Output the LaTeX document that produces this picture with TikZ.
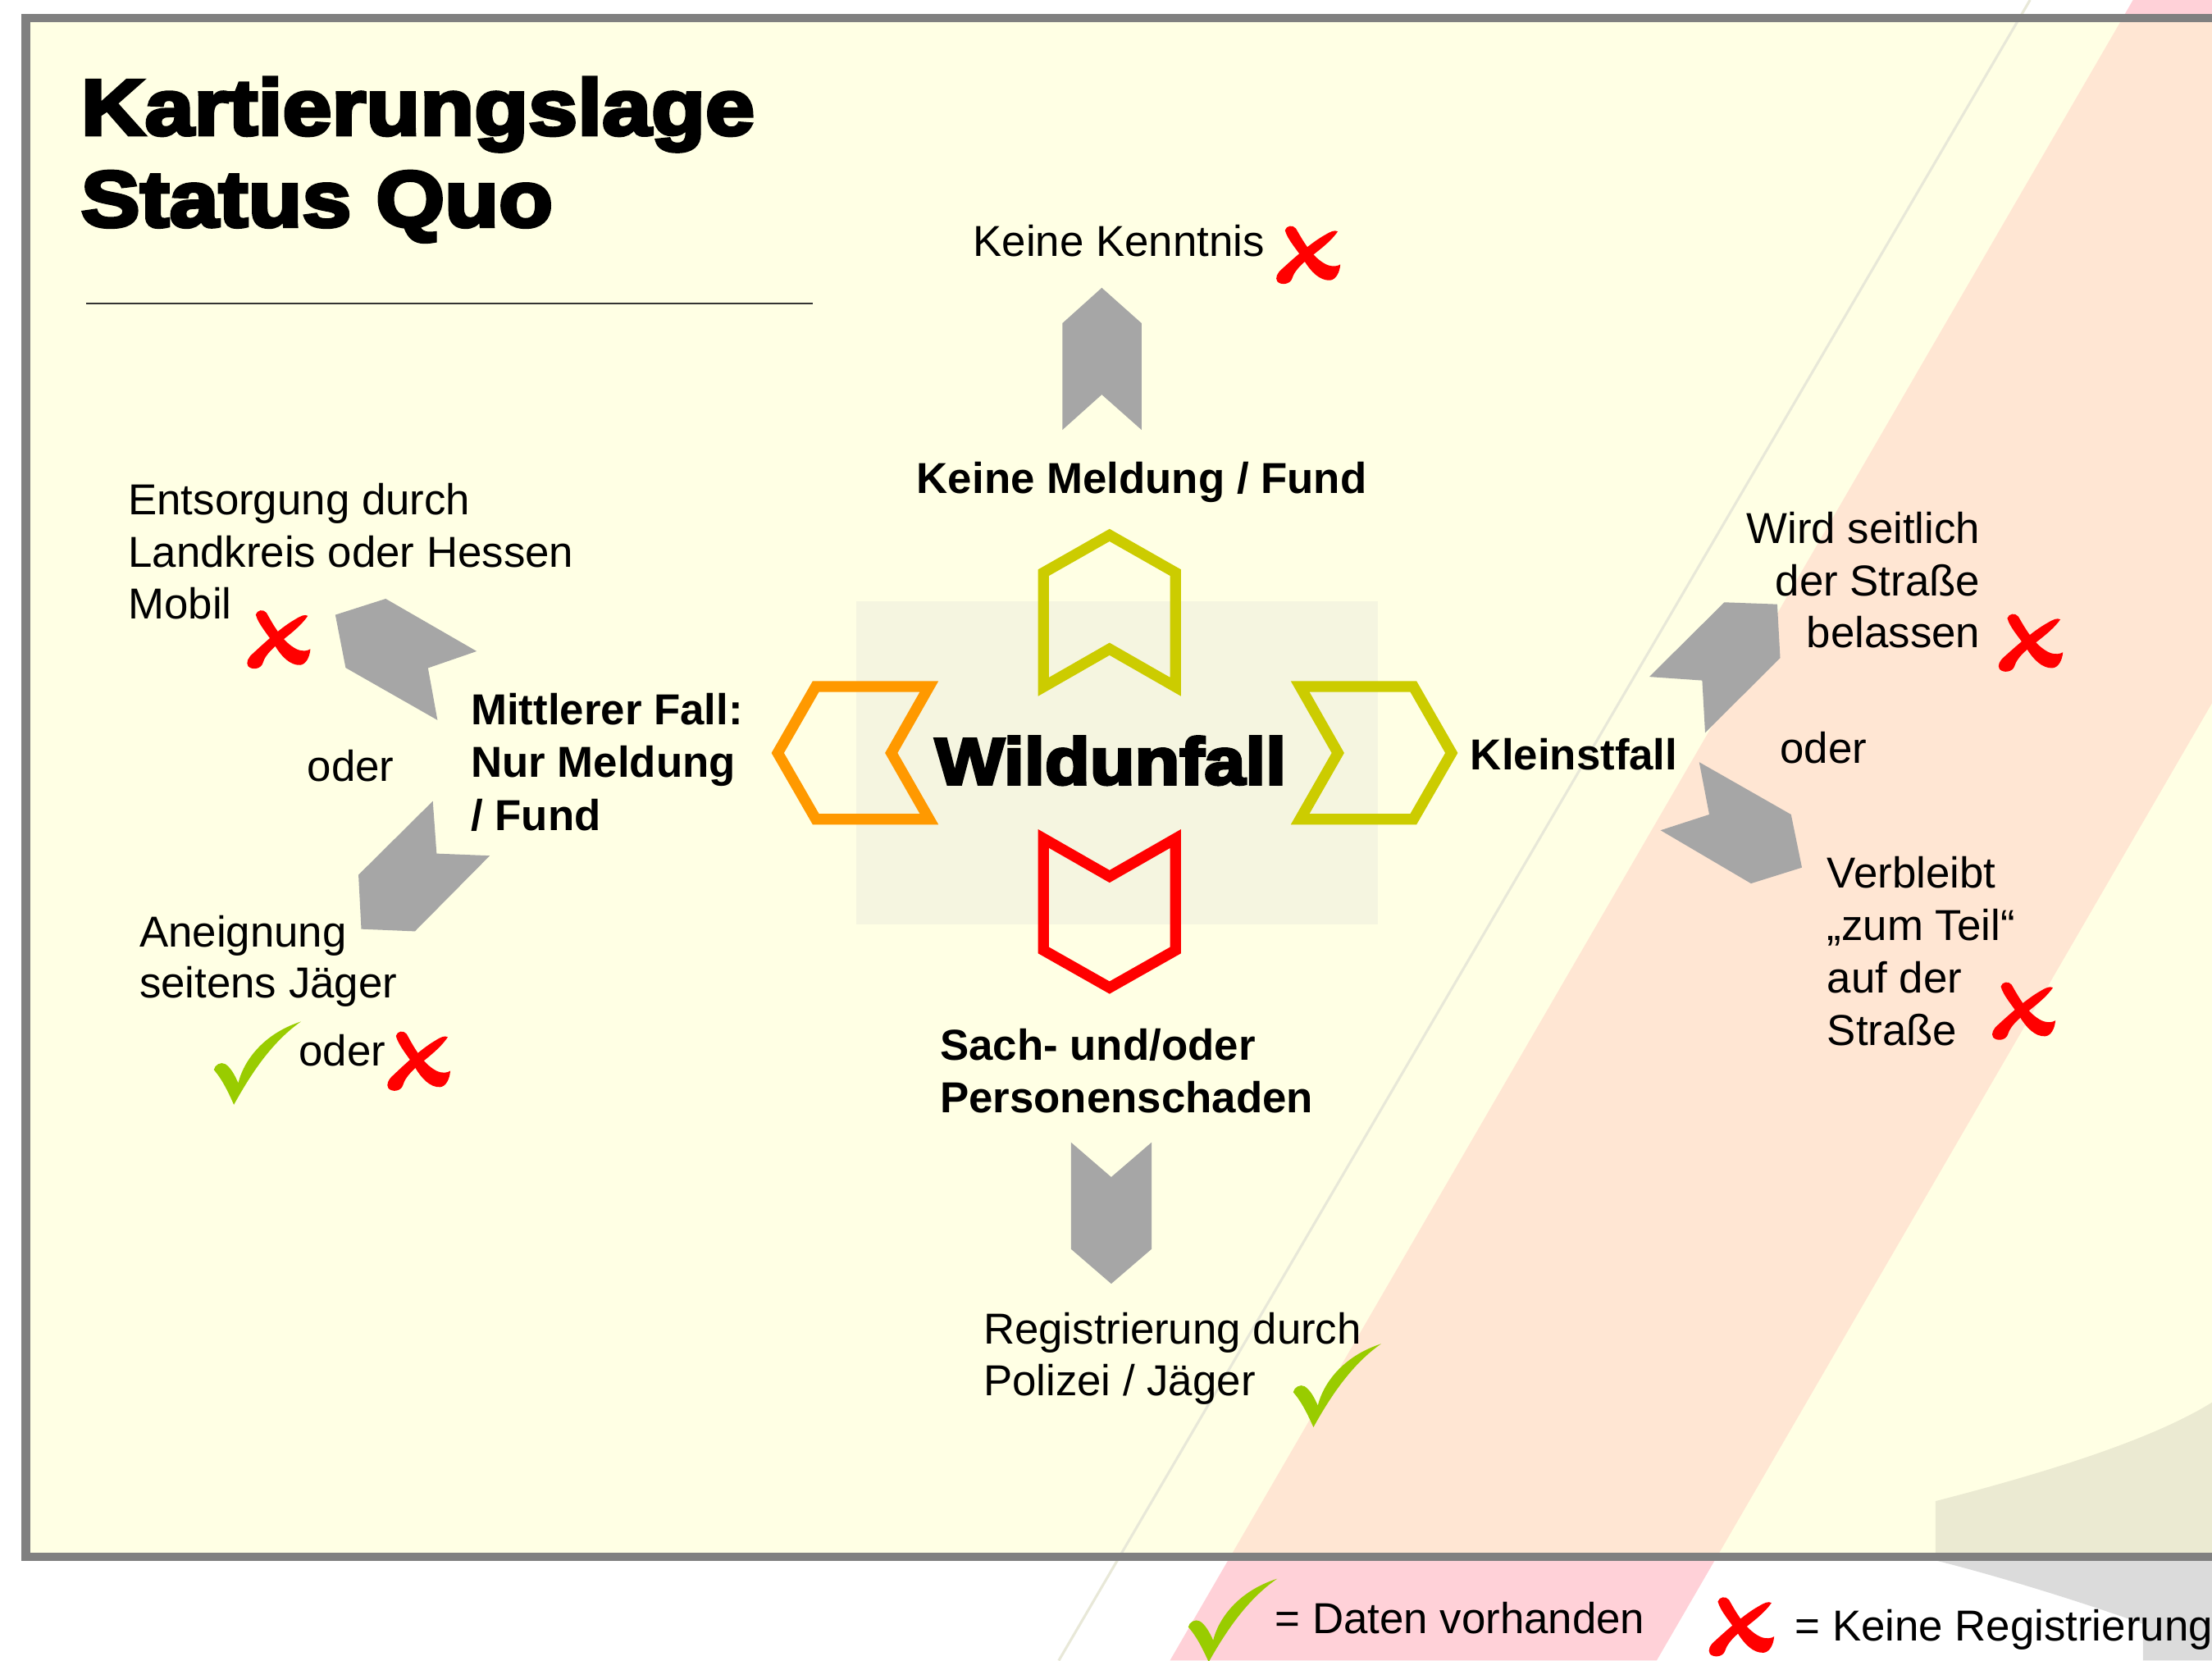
\documentclass[tikz,border=0pt]{standalone}
\usepackage{fontspec}
\setmainfont{Liberation Sans}
\newfontfamily\heavyfont{Liberation Sans Bold}[FakeBold=4.5,FakeStretch=1.12]
\definecolor{bgY}{HTML}{FFFFE4}
\definecolor{sqC}{HTML}{F5F5E0}
\definecolor{peach}{HTML}{FFE6D3}
\definecolor{pinkout}{HTML}{FFD1D8}
\definecolor{shin}{HTML}{EBEAD2}
\definecolor{shout}{HTML}{DBDBDB}
\definecolor{faintL}{HTML}{E8E8D8}
\definecolor{frameG}{HTML}{808080}
\definecolor{arrG}{HTML}{A6A6A6}
\definecolor{chevG}{HTML}{CCCC00}
\definecolor{chevO}{HTML}{FF9900}
\definecolor{chkG}{HTML}{99CC00}
\tikzset{
  txt/.style={inner sep=0pt, anchor=base west, align=left, font=\fontsize{15.35}{18.65}\selectfont},
  btxt/.style={inner sep=0pt, anchor=base west, align=left, font=\fontsize{15.35}{18.75}\selectfont\bfseries},
  chevline/.style={line width=3.85pt, line join=miter, miter limit=10},
  arrowshape/.style={fill=arrG},
  xmark/.pic={
    \fill[red] (0.14,0.08) .. controls (0.16,0.0) and (0.26,-0.02) .. (0.31,0.05)
      .. controls (0.42,0.26) and (0.56,0.54) .. (0.78,0.66)
      .. controls (0.88,0.71) and (0.96,0.69) .. (1.0,0.66)
      .. controls (0.99,0.80) and (0.93,0.92) .. (0.84,0.93)
      .. controls (0.68,0.94) and (0.54,0.78) .. (0.44,0.60)
      .. controls (0.32,0.40) and (0.18,0.24) .. (0.14,0.08) -- cycle;
    \fill[red] (0.96,0.10) .. controls (0.82,0.32) and (0.58,0.48) .. (0.42,0.64)
      .. controls (0.33,0.73) and (0.27,0.82) .. (0.25,0.90)
      .. controls (0.22,1.0) and (0.08,1.02) .. (0.02,0.95)
      .. controls (-0.02,0.89) and (0.02,0.80) .. (0.10,0.73)
      .. controls (0.30,0.53) and (0.56,0.28) .. (0.76,0.16)
      .. controls (0.85,0.10) and (0.91,0.07) .. (0.96,0.10) -- cycle;
  },
  cmark/.pic={
    \fill[chkG] (0.23,1.0) .. controls (0.42,0.64) and (0.66,0.25) .. (1.0,0.0)
      .. controls (0.56,0.15) and (0.34,0.48) .. (0.28,0.74)
      .. controls (0.24,0.64) and (0.19,0.55) .. (0.13,0.51)
      .. controls (0.08,0.48) and (0.01,0.52) .. (0.0,0.58)
      .. controls (0.10,0.70) and (0.17,0.86) .. (0.23,1.0) -- cycle;
  }
}
\begin{document}
\begin{tikzpicture}[x=0.5pt,y=-0.5pt]
\useasboundingbox (0,0) rectangle (1568,1177);
\clip (0,0) rectangle (1568,1177);
% background
\fill[white] (0,0) rectangle (1568,1177);
\fill[pinkout] (1512,0) -- (1857,0) -- (1174.3,1177) -- (829.3,1177) -- cycle;
\fill[bgY] (18,13) rectangle (1600,1103);
\fill[peach] (1504.5,13) -- (1849.5,13) -- (1217.3,1103) -- (872.3,1103) -- cycle;
\fill[shin] (1372,1103) -- (1372,1064) .. controls (1430,1049) and (1520,1024) .. (1568,994) -- (1600,980) -- (1600,1103) -- cycle;
\fill[shout] (1372,1106) .. controls (1420,1118) and (1480,1137) .. (1519,1151) -- (1519,1177) -- (1600,1177) -- (1600,1106) -- cycle;
\draw[faintL, line width=0.9pt] (1439,0) -- (750.5,1177);
\draw[frameG, line width=3pt] (1600,12.8) -- (18.3,12.8) -- (18.3,1103.5) -- (1600,1103.5);
% title
\node[inner sep=0pt, anchor=base west, align=left, font=\heavyfont\fontsize{28}{32.5}\selectfont] (title) at (57,160.5) {Kartierungslage\\Status Quo};
\draw[black!80, line width=0.6pt] (61,215) -- (576,215);
% centre
\fill[sqC] (607,426) rectangle (977,655);
\draw[chevG, chevline] (786.5,379.3) -- (833.3,405.9) -- (833.3,486.8) -- (786.5,460) -- (739.7,486.8) -- (739.7,405.9) -- cycle;
\draw[red, chevline] (739.7,594.4) -- (786.5,621.2) -- (833.3,594.4) -- (833.3,673.5) -- (786.5,700) -- (739.7,673.5) -- cycle;
\draw[chevO, chevline] (578.3,486.6) -- (658.6,486.6) -- (631.8,533.7) -- (658.6,580.6) -- (578.3,580.6) -- (551.3,533.7) -- cycle;
\draw[chevG, chevline] (921.6,486.6) -- (1001.9,486.6) -- (1028.9,533.7) -- (1001.9,580.6) -- (921.6,580.6) -- (948.4,533.7) -- cycle;
\node[inner sep=0pt, anchor=base, font=\heavyfont\fontsize{23.3}{28}\selectfont] (wild) at (787.2,555.8) {Wildunfall};
% grey arrows
\fill[arrowshape] (781,204) -- (809.2,229.1) -- (809.2,304.7) -- (781,279.7) -- (753.1,304.7) -- (753.1,229.1) -- cycle;
\fill[arrowshape] (759.2,809.7) -- (787.7,834.3) -- (816.3,809.7) -- (816.3,885.3) -- (787.7,909.9) -- (759.2,885.3) -- cycle;
\fill[arrowshape] (237.7,435.8) -- (273.4,424.4) -- (337.9,461.6) -- (303.4,473.5) -- (310.1,510.4) -- (245.0,473.3) -- cycle;
\fill[arrowshape] (306.8,567.8) -- (309.5,605.0) -- (347.2,606.5) -- (294.1,660.1) -- (256.1,658.5) -- (254.1,620.1) -- cycle;
\fill[arrowshape] (1259.8,428.3) -- (1261.9,466.3) -- (1208.7,519.4) -- (1206.6,482.3) -- (1169.1,479.7) -- (1222.3,426.9) -- cycle;
\fill[arrowshape] (1204.5,540.2) -- (1211.6,577.3) -- (1177.1,588.5) -- (1241.2,626.2) -- (1277.3,614.9) -- (1269.6,577.3) -- cycle;
% texts (base anchor = baseline of last line)
\node[txt] (kk) at (689.5,181.8) {Keine Kenntnis};
\node[btxt] (kmf) at (649.5,349.8) {Keine Meldung / Fund};
\node[btxt] (mf) at (333.5,588.5) {Mittlerer Fall:\\Nur Meldung\\/ Fund};
\node[txt] (oderL) at (217.5,553.6) {oder};
\node[txt, font=\fontsize{15.35}{18.5}\selectfont] (ents) at (90.5,438.9) {Entsorgung durch\\Landkreis oder Hessen\\Mobil};
\node[txt, font=\fontsize{15.35}{18.2}\selectfont] (anei) at (98.5,707.4) {Aneignung\\seitens Jäger};
\node[txt] (oderJ) at (211.5,755.6) {oder};
\node[btxt] (klein) at (1042,545.5) {Kleinstfall};
\node[txt, anchor=base east, align=right, font=\fontsize{15.35}{18.55}\selectfont] (wird) at (1404,459.2) {Wird seitlich\\der Straße\\belassen};
\node[txt] (oderR) at (1261.5,540.8) {oder};
\node[txt] (verb) at (1294.8,741.0) {Verbleibt\\„zum Teil“\\auf der\\Straße};
\node[btxt] (sach) at (666,788.8) {Sach- und/oder\\Personenschaden};
\node[txt, font=\fontsize{15.35}{18.4}\selectfont] (regi) at (696.7,989.3) {Registrierung durch\\Polizei / Jäger};
\node[txt] (leg1) at (903.5,1158) {= Daten vorhanden};
\node[txt] (leg2) at (1272,1162.8) {= Keine Registrierung};
% marks
\pic[xscale=45.6, yscale=41.7] at (904.5,159.9) {xmark};
\pic[xscale=45, yscale=42] at (175,432.3) {xmark};
\pic[xscale=44.8, yscale=42.7] at (274.4,730.8) {xmark};
\pic[xscale=45.8, yscale=41.5] at (1416.5,434.9) {xmark};
\pic[xscale=45, yscale=41.5] at (1412,695.9) {xmark};
\pic[xscale=46.4, yscale=42.6] at (1211.2,1131.8) {xmark};
\pic[xscale=61.7, yscale=58.9] at (151.6,724.1) {cmark};
\pic[xscale=62.3, yscale=59.1] at (916.7,952.5) {cmark};
\pic[xscale=63, yscale=59] at (842.3,1119) {cmark};
\end{tikzpicture}
\end{document}
